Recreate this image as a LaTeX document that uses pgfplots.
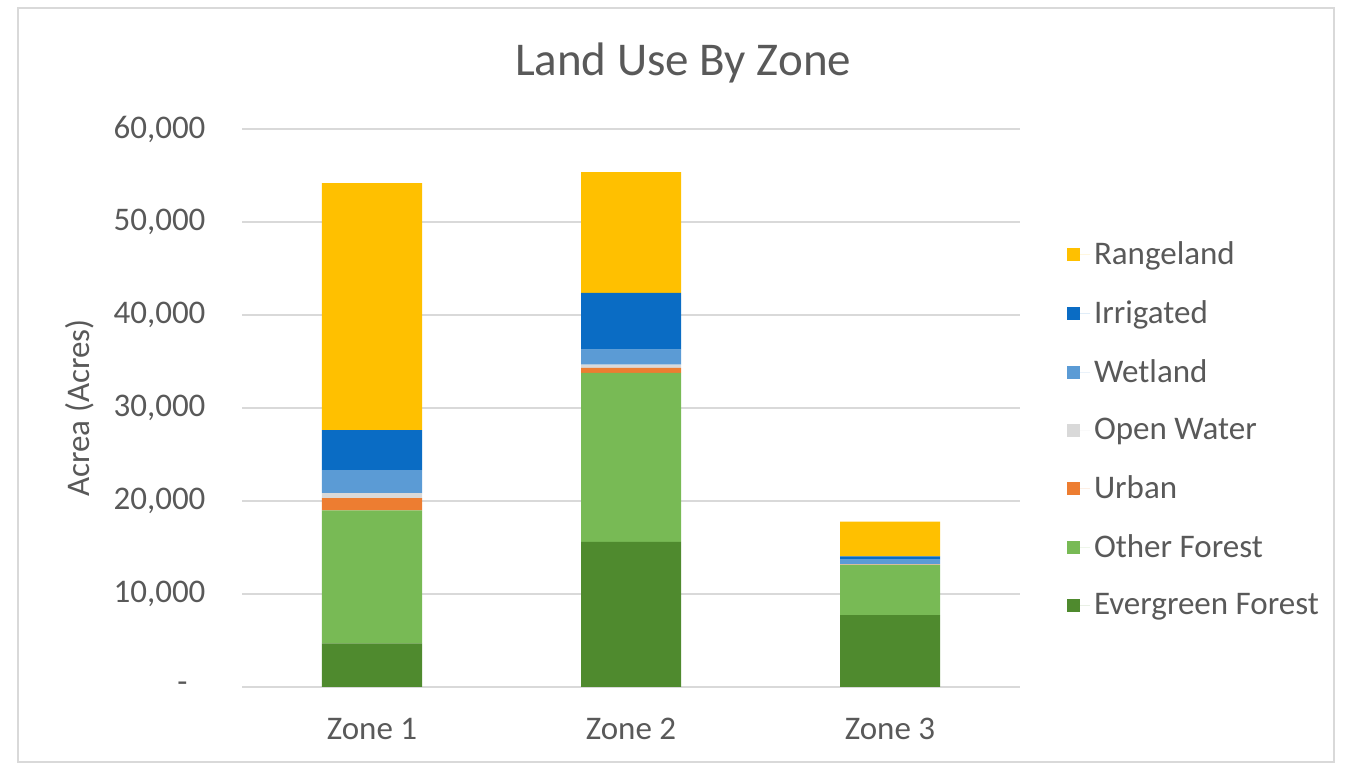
\documentclass[border=0pt]{standalone}
\usepackage{pgfplots}
\pgfplotsset{compat=1.18}
\usepackage{pgfplotstable}
\usepackage{fontspec}
\setmainfont{Carlito}

\definecolor{txt}{HTML}{595959}
\definecolor{gridc}{HTML}{D9D9D9}
\definecolor{crange}{HTML}{FFC000}
\definecolor{cirr}{HTML}{0A6CC4}
\definecolor{cwet}{HTML}{5B9BD5}
\definecolor{cwater}{HTML}{D9D9D9}
\definecolor{curban}{HTML}{ED7D31}
\definecolor{cother}{HTML}{78BA55}
\definecolor{cever}{HTML}{4F8A2E}

% zone, acres per land use
\pgfplotstableread{
x evergreen other urban water wetland irrigated range
0 4700 14300 1300 540 2470 4300 26560
1 15600 18170 540 360 1600 6100 13000
2 7740 5380 40 40 500 350 3720
}\landuse

\begin{document}
\begin{tikzpicture}
% page frame (1px = 0.5pt)
\path (0,0) rectangle (675pt,382pt);
\draw[gridc, line width=0.6pt] (9pt,1pt) rectangle (667pt,378pt);
\begin{axis}[
  at={(121.25pt,38.5pt)}, anchor=south west,
  scale only axis, width=388.5pt, height=279pt,
  ybar stacked, bar width=50pt,
  xmin=-0.5, xmax=2.5, ymin=0, ymax=60000,
  scaled y ticks=false,
  xtick={0,1,2}, xticklabels={Zone 1,Zone 2,Zone 3},
  ytick={0,10000,20000,30000,40000,50000,60000},
  yticklabels={{\makebox[14pt][l]{-}},{10,000},{20,000},{30,000},{40,000},{50,000},{60,000}},
  axis x line*=bottom, axis y line*=left,
  x axis line style={draw=gridc, line width=0.6pt},
  y axis line style={draw=none},
  major tick length=0pt,
  ymajorgrids, grid style={gridc, line width=0.6pt},
  ticklabel style={font=\fontsize{16.5}{19}\selectfont, text=txt},
  yticklabel style={xshift=-15pt},
  xticklabel style={yshift=-12pt},
  title={Land Use By Zone},
  title style={font=\fontsize{23.5}{28}\selectfont, text=txt,
    at={(axis description cs:0.567,1.097)}, anchor=center, yshift=0pt},
  ylabel={Acrea (Acres)},
  ylabel style={font=\fontsize{16.5}{19}\selectfont, text=txt,
    at={(axis description cs:-0.209,0.5)}, anchor=center},
  reverse legend,
  legend style={draw=none, fill=none, at={(axis description cs:1.0529,0.4615)},
    anchor=west, font=\fontsize{16.5}{19}\selectfont, text=txt,
    row sep=12.5pt, cells={anchor=west}},
  legend image code/.code={\fill[#1] (0pt,-3.25pt) rectangle (6.5pt,3.25pt);
    \path (6.5pt,0pt) -- (11.5pt,0pt);},
  every axis plot/.append style={draw=none},
]
\addplot[fill=cever] table[x=x, y=evergreen] {\landuse};
\addplot[fill=cother] table[x=x, y=other] {\landuse};
\addplot[fill=curban] table[x=x, y=urban] {\landuse};
\addplot[fill=cwater] table[x=x, y=water] {\landuse};
\addplot[fill=cwet] table[x=x, y=wetland] {\landuse};
\addplot[fill=cirr] table[x=x, y=irrigated] {\landuse};
\addplot[fill=crange] table[x=x, y=range] {\landuse};
\legend{Evergreen Forest,Other Forest,Urban,Open Water,Wetland,Irrigated,Rangeland}
\end{axis}
\end{tikzpicture}
\end{document}
